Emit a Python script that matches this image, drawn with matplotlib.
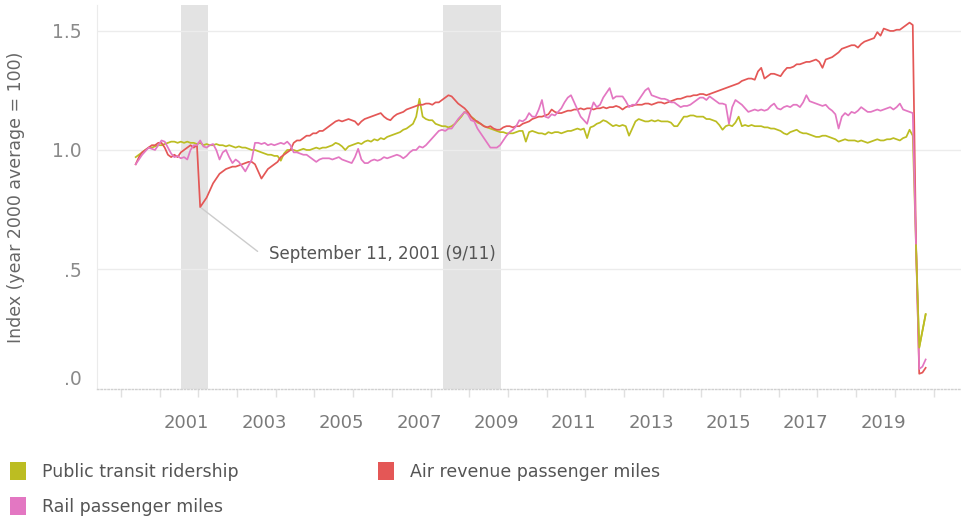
import numpy as np
import matplotlib
matplotlib.use("Agg")
import matplotlib.pyplot as plt
from matplotlib.patches import Rectangle
from matplotlib.transforms import ScaledTranslation

# monthly index values, Jan 2000 .. Jun 2020 (year 2000 average = 1.0)
transit = [
    0.97, 0.98, 0.99, 1.00, 1.01, 1.01, 1.015, 1.02, 1.02, 1.025, 1.03, 1.035,
    1.035, 1.03, 1.035, 1.03, 1.035, 1.03, 1.03, 1.025, 1.03, 1.02, 1.025, 1.02,
    1.02, 1.025, 1.02, 1.02, 1.015, 1.02, 1.015, 1.01, 1.015, 1.01, 1.01, 1.005,
    1.00, 1.00, 0.995, 0.99, 0.985, 0.98, 0.98, 0.975, 0.975, 0.955, 0.985, 1.00,
    1.00, 1.00, 0.995, 1.00, 1.005, 1.00, 1.00, 1.005, 1.01, 1.005, 1.01, 1.01,
    1.015, 1.02, 1.03, 1.025, 1.015, 1.00, 1.015, 1.02, 1.025, 1.03, 1.025, 1.035,
    1.04, 1.035, 1.045, 1.04, 1.05, 1.045, 1.055, 1.06, 1.065, 1.07, 1.075, 1.085,
    1.09, 1.10, 1.11, 1.14, 1.215, 1.14, 1.13, 1.125, 1.125, 1.11, 1.105, 1.10,
    1.10, 1.095, 1.10, 1.11, 1.125, 1.14, 1.16, 1.155, 1.14, 1.13, 1.115, 1.11,
    1.10, 1.095, 1.09, 1.085, 1.08, 1.075, 1.075, 1.07, 1.07, 1.07, 1.075, 1.08,
    1.08, 1.035, 1.075, 1.08, 1.075, 1.07, 1.07, 1.065, 1.075, 1.07, 1.075, 1.075,
    1.07, 1.075, 1.08, 1.08, 1.085, 1.09, 1.085, 1.09, 1.05, 1.095, 1.10, 1.11,
    1.115, 1.125, 1.12, 1.11, 1.10, 1.105, 1.10, 1.105, 1.10, 1.06, 1.09, 1.12,
    1.13, 1.125, 1.12, 1.12, 1.125, 1.12, 1.125, 1.12, 1.12, 1.12, 1.115, 1.10,
    1.10, 1.12, 1.14, 1.14, 1.145, 1.145, 1.14, 1.14, 1.14, 1.13, 1.13, 1.125,
    1.12, 1.105, 1.085, 1.10, 1.105, 1.10, 1.115, 1.14, 1.10, 1.105, 1.10, 1.105,
    1.10, 1.10, 1.10, 1.095, 1.095, 1.09, 1.09, 1.085, 1.08, 1.07, 1.065, 1.075,
    1.08, 1.085, 1.075, 1.07, 1.07, 1.065, 1.06, 1.055, 1.055, 1.06, 1.06, 1.055,
    1.05, 1.045, 1.035, 1.04, 1.045, 1.04, 1.04, 1.04, 1.035, 1.04, 1.035, 1.03,
    1.035, 1.04, 1.045, 1.04, 1.04, 1.045, 1.045, 1.05, 1.045, 1.04, 1.05, 1.055,
    1.085, 1.06, 0.60, 0.17, 0.24, 0.31,
]

air = [
    0.94, 0.97, 0.99, 1.00, 1.01, 1.02, 1.02, 1.03, 1.03, 1.01, 0.98, 0.97,
    0.98, 0.97, 0.99, 1.00, 1.01, 1.02, 1.01, 1.02, 0.76, 0.78, 0.80, 0.83,
    0.86, 0.88, 0.90, 0.91, 0.92, 0.925, 0.93, 0.93, 0.935, 0.94, 0.945, 0.95,
    0.95, 0.94, 0.91, 0.88, 0.90, 0.92, 0.93, 0.94, 0.95, 0.97, 0.98, 0.99,
    1.00, 1.03, 1.04, 1.04, 1.05, 1.06, 1.06, 1.07, 1.07, 1.08, 1.08, 1.09,
    1.10, 1.11, 1.12, 1.125, 1.12, 1.125, 1.13, 1.125, 1.12, 1.105, 1.12, 1.13,
    1.135, 1.14, 1.145, 1.15, 1.155, 1.14, 1.13, 1.125, 1.14, 1.15, 1.155, 1.16,
    1.17, 1.175, 1.18, 1.185, 1.19, 1.19, 1.195, 1.195, 1.19, 1.20, 1.20, 1.21,
    1.22, 1.23, 1.225, 1.21, 1.195, 1.185, 1.175, 1.16, 1.14, 1.125, 1.12, 1.11,
    1.10, 1.095, 1.10, 1.09, 1.085, 1.085, 1.095, 1.10, 1.10, 1.095, 1.10, 1.10,
    1.11, 1.115, 1.12, 1.13, 1.135, 1.14, 1.14, 1.145, 1.15, 1.17, 1.16, 1.155,
    1.155, 1.16, 1.165, 1.165, 1.17, 1.17, 1.175, 1.17, 1.175, 1.175, 1.17, 1.175,
    1.175, 1.18, 1.175, 1.18, 1.18, 1.185, 1.18, 1.17, 1.18, 1.185, 1.185, 1.19,
    1.19, 1.19, 1.195, 1.195, 1.19, 1.195, 1.20, 1.20, 1.195, 1.20, 1.205, 1.21,
    1.215, 1.215, 1.22, 1.225, 1.225, 1.23, 1.23, 1.235, 1.235, 1.23, 1.235, 1.24,
    1.245, 1.25, 1.255, 1.26, 1.265, 1.27, 1.275, 1.28, 1.29, 1.295, 1.30, 1.30,
    1.295, 1.33, 1.345, 1.30, 1.31, 1.32, 1.32, 1.315, 1.31, 1.33, 1.345, 1.345,
    1.35, 1.36, 1.36, 1.365, 1.37, 1.37, 1.375, 1.38, 1.37, 1.345, 1.38, 1.385,
    1.39, 1.40, 1.41, 1.425, 1.43, 1.435, 1.44, 1.44, 1.43, 1.445, 1.455, 1.46,
    1.465, 1.47, 1.495, 1.48, 1.51, 1.505, 1.50, 1.50, 1.505, 1.505, 1.515, 1.525,
    1.535, 1.525, 0.62, 0.06, 0.065, 0.085,
]

rail = [
    0.94, 0.96, 0.98, 0.995, 1.01, 1.005, 1.00, 1.02, 1.04, 1.035, 1.01, 0.985,
    0.97, 0.975, 0.965, 0.97, 0.96, 1.00, 1.02, 1.02, 1.04, 1.015, 1.01, 1.02,
    1.025, 1.00, 0.96, 0.99, 1.00, 0.97, 0.945, 0.96, 0.95, 0.93, 0.91, 0.935,
    0.96, 1.03, 1.03, 1.025, 1.03, 1.02, 1.025, 1.02, 1.025, 1.03, 1.025, 1.035,
    1.02, 0.99, 0.99, 0.985, 0.98, 0.98, 0.97, 0.96, 0.95, 0.96, 0.965, 0.965,
    0.965, 0.96, 0.965, 0.97, 0.96, 0.955, 0.95, 0.945, 0.97, 1.005, 0.96, 0.945,
    0.945, 0.955, 0.96, 0.955, 0.96, 0.97, 0.965, 0.97, 0.975, 0.98, 0.975, 0.965,
    0.975, 0.99, 1.00, 1.00, 1.015, 1.01, 1.02, 1.035, 1.05, 1.065, 1.08, 1.085,
    1.08, 1.09, 1.09, 1.11, 1.13, 1.145, 1.16, 1.15, 1.125, 1.12, 1.09, 1.07,
    1.05, 1.03, 1.01, 1.01, 1.01, 1.02, 1.04, 1.06, 1.075, 1.085, 1.10, 1.125,
    1.12, 1.13, 1.155, 1.14, 1.14, 1.17, 1.21, 1.14, 1.135, 1.15, 1.145, 1.16,
    1.175, 1.20, 1.22, 1.23, 1.20, 1.17, 1.14, 1.125, 1.11, 1.16, 1.20, 1.18,
    1.19, 1.22, 1.24, 1.26, 1.215, 1.225, 1.225, 1.225, 1.205, 1.18, 1.19, 1.19,
    1.21, 1.23, 1.25, 1.26, 1.23, 1.225, 1.22, 1.215, 1.215, 1.21, 1.20, 1.20,
    1.19, 1.18, 1.185, 1.185, 1.19, 1.20, 1.21, 1.22, 1.22, 1.21, 1.225, 1.215,
    1.205, 1.195, 1.195, 1.19, 1.11, 1.18, 1.21, 1.20, 1.19, 1.175, 1.16, 1.165,
    1.17, 1.165, 1.17, 1.165, 1.17, 1.185, 1.195, 1.175, 1.17, 1.18, 1.185, 1.18,
    1.19, 1.19, 1.18, 1.20, 1.23, 1.205, 1.20, 1.195, 1.19, 1.185, 1.19, 1.175,
    1.165, 1.15, 1.09, 1.14, 1.155, 1.145, 1.16, 1.155, 1.165, 1.18, 1.17, 1.16,
    1.16, 1.165, 1.17, 1.165, 1.17, 1.175, 1.18, 1.17, 1.18, 1.195, 1.17, 1.165,
    1.16, 1.155, 0.60, 0.08, 0.09, 0.12,
]

series_names = ["Public transit ridership", "Air revenue passenger miles", "Rail passenger miles"]
series_colors = ["#bcbd22", "#e45756", "#e377c2"]
recessions = [(2001.17, 2001.87), (2007.94, 2009.43)]
label_years = list(range(2001, 2020, 2))
y_ticks = [0.0, 0.5, 1.0, 1.5]
y_tick_labels = [".0", ".5", "1.0", "1.5"]
event_label = "September 11, 2001 (9/11)"

months = 2000 + np.arange(len(air)) / 12.0

fig = plt.figure(figsize=(9.61, 5.18), dpi=100)
ax = fig.add_axes([97 / 961, 1 - 389 / 518, 864 / 961, 384 / 518])

for start, end in recessions:
    ax.axvspan(start, end, color="#e3e3e3", lw=0, zorder=0)

for vals, col in zip([transit, air, rail], series_colors):
    ax.plot(months, vals, color=col, lw=1.25, zorder=3)
# transit drawn on top of rail at the tail like the original
ax.plot(months[-4:], transit[-4:], color=series_colors[0], lw=1.25, zorder=4)

ax.set_xlim(1999.0, 2021.33)
ax.set_ylim(-0.004, 1.609)

ax.set_yticks(y_ticks)
ax.set_yticklabels(y_tick_labels)
ax.tick_params(axis="y", length=0, pad=11, labelsize=13.5, labelcolor="#8a8a8a")
for v in y_ticks[1:]:
    ax.axhline(v, color="#ececec", lw=1, zorder=1)
zero_lbl = ax.get_yticklabels()[0]
zero_lbl.set_transform(zero_lbl.get_transform() + ScaledTranslation(0, 11 / 100, fig.dpi_scale_trans))

ax.set_xticks([y + 0.32 for y in label_years])
ax.set_xticklabels([str(y) for y in label_years])
ax.set_xticks([y + 0.62 for y in range(1999, 2021)], minor=True)
ax.tick_params(axis="x", which="major", length=0, pad=18, labelsize=13, labelcolor="#7a7a7a")
ax.tick_params(axis="x", which="minor", length=6, width=1, color="#e0e0e0", pad=0)

for side in ["top", "right"]:
    ax.spines[side].set_visible(False)
ax.spines["left"].set_color("#ebebeb")
ax.spines["bottom"].set_color("#d0d0d0")
ax.spines["bottom"].set_linewidth(1)
ax.spines["bottom"].set_linestyle((0, (1, 1.5)))

ax.set_ylabel("Index (year 2000 average = 100)", fontsize=12.5, color="#666666", labelpad=10)
ax.yaxis.set_label_coords(-72 / 864, 0.5)

ax.annotate(event_label, xy=(months[20], air[20]), xytext=(2003.45, 0.563),
            fontsize=12, color="#555555", ha="left", va="center",
            arrowprops=dict(arrowstyle="-", color="#cccccc", lw=1, relpos=(0, 0.15),
                            shrinkA=8, shrinkB=1), zorder=5)

# legend
legend_pos = [(10, 462), (378, 462), (10, 497)]
for name, col, (px, py) in zip(series_names, series_colors, legend_pos):
    fig.patches.append(Rectangle((px / 961, 1 - (py + 18) / 518), 16 / 961, 18 / 518,
                                 transform=fig.transFigure, facecolor=col, edgecolor="none"))
    fig.text((px + 32) / 961, 1 - (py + 10) / 518, name, fontsize=12.5, color="#555555",
             ha="left", va="center")

fig.savefig("out.png", dpi=100)
